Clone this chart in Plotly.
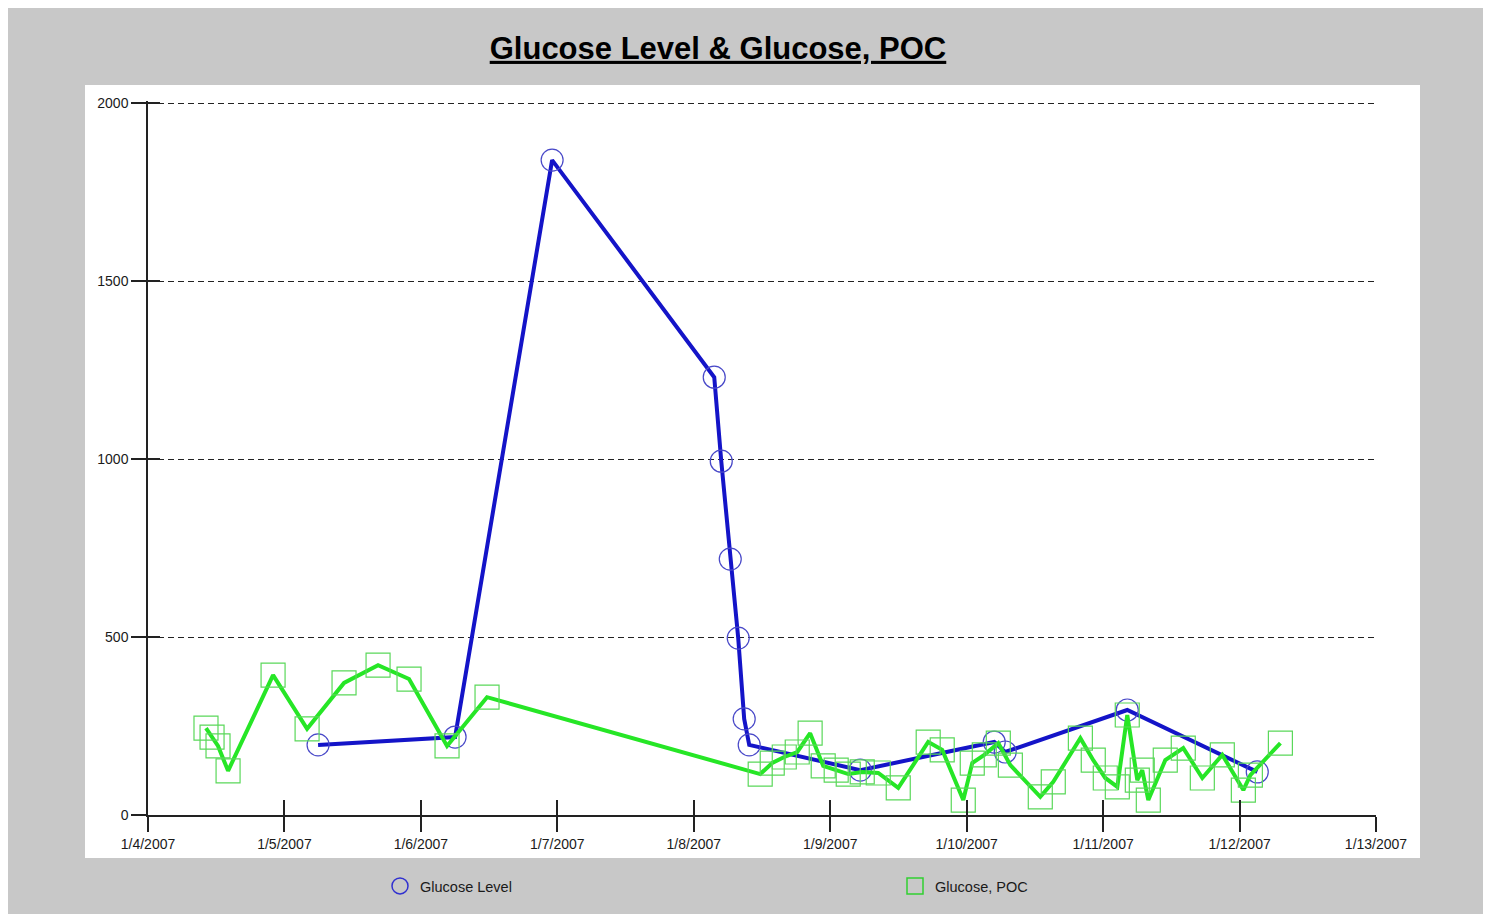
import plotly.graph_objects as go

# ---- Data ----
level_times = [
    "2007-01-05 05:55", "2007-01-06 06:01", "2007-01-06 23:05", "2007-01-08 03:36",
    "2007-01-08 04:50", "2007-01-08 06:25", "2007-01-08 07:49", "2007-01-08 08:52",
    "2007-01-08 09:45", "2007-01-09 05:17", "2007-01-10 04:51", "2007-01-10 06:47",
    "2007-01-11 04:15", "2007-01-12 03:07",
]
level_values = [197, 219, 1840, 1230, 994, 719, 497, 270, 197, 126, 205, 177, 295, 121]

poc_times = [
    "2007-01-04 10:12", "2007-01-04 11:16", "2007-01-04 12:19", "2007-01-04 14:05",
    "2007-01-04 22:00", "2007-01-05 03:59", "2007-01-05 10:29", "2007-01-05 16:28",
    "2007-01-05 21:55", "2007-01-06 04:36", "2007-01-06 11:38", "2007-01-08 11:41",
    "2007-01-08 13:48", "2007-01-08 15:55", "2007-01-08 18:12", "2007-01-08 20:28",
    "2007-01-08 22:46", "2007-01-09 01:03", "2007-01-09 03:10", "2007-01-09 05:38",
    "2007-01-09 08:27", "2007-01-09 11:58", "2007-01-09 17:14", "2007-01-09 19:42",
    "2007-01-09 23:24", "2007-01-10 00:59", "2007-01-10 03:06", "2007-01-10 05:34",
    "2007-01-10 07:41", "2007-01-10 12:57", "2007-01-10 15:14", "2007-01-10 20:00",
    "2007-01-10 22:16", "2007-01-11 00:23", "2007-01-11 02:30", "2007-01-11 04:15",
    "2007-01-11 06:01", "2007-01-11 06:53", "2007-01-11 07:57", "2007-01-11 10:56",
    "2007-01-11 14:06", "2007-01-11 17:27", "2007-01-11 20:58", "2007-01-12 00:40",
    "2007-01-12 01:54", "2007-01-12 07:11",
]
poc_values = [
    244, 219, 194, 124, 393, 242, 371, 421, 382, 194, 331, 115,
    146, 163, 177, 230, 138, 126, 115, 121, 118, 76, 205, 183,
    42, 146, 169, 202, 140, 51, 93, 216, 154, 104, 79, 281,
    98, 126, 42, 154, 188, 104, 169, 70, 112, 202,
]

x_range = ["2007-01-04", "2007-01-13"]
y_range = [0, 2006]
y_ticks = [0, 500, 1000, 1500, 2000]

title_text = "Glucose Level & Glucose, POC"
series_names = ["Glucose Level", "Glucose, POC"]

BLUE_LINE = "#1414c8"
BLUE_MARK = "#4848c8"
GREEN_LINE = "#26e626"
GREEN_MARK = "#5ad85a"
BG = "#c8c8c8"
FONT = "Liberation Sans, Arial, sans-serif"

# page has an 8px body margin: compensate so the plot lands where the reference has it
OFF = 8
W, H = 1491 - 2 * OFF, 922 - 2 * OFF
L, T = 148 - OFF, 101 - OFF
R = W - (1376 - OFF)
B = H - (815 - OFF)
PW, PH = W - L - R, H - T - B

fig = go.Figure()

fig.add_trace(go.Scatter(
    x=level_times, y=level_values, mode="lines+markers",
    line=dict(color=BLUE_LINE, width=4),
    marker=dict(symbol="circle-open", size=22, color=BLUE_MARK, line=dict(width=1.2, color=BLUE_MARK)),
    showlegend=False, name=series_names[0],
))
fig.add_trace(go.Scatter(
    x=poc_times, y=poc_values, mode="lines+markers",
    line=dict(color=GREEN_LINE, width=4),
    marker=dict(symbol="square-open", size=24, color=GREEN_MARK, line=dict(width=1.2, color=GREEN_MARK)),
    showlegend=False, name=series_names[1],
))

# legend-only entries (marker symbol only, as in the reference legend)
fig.add_trace(go.Scatter(
    x=[None], y=[None], mode="markers", name=series_names[0],
    marker=dict(symbol="circle-open", size=22, color="#3030d0", line=dict(width=1.5, color="#3030d0")),
))
fig.add_trace(go.Scatter(
    x=[None], y=[None], mode="markers", name=series_names[1],
    marker=dict(symbol="square-open", size=22, color="#30d030", line=dict(width=1.5, color="#30d030")),
))

# invisible trace on overlay axes so the inner tick halves (and dashed grid) are drawn
fig.add_trace(go.Scatter(
    x=[None], y=[None], xaxis="x2", yaxis="y2", mode="markers",
    showlegend=False, hoverinfo="skip",
))

fig.update_layout(
    width=W, height=H,
    paper_bgcolor=BG, plot_bgcolor="white",
    margin=dict(l=L, r=R, t=T, b=B, pad=0),
    font=dict(family=FONT, color="#1a1a1a", size=12),
    title=dict(
        text="<b><u>" + title_text + "</u></b>",
        font=dict(family=FONT, size=31, color="black"),
        x=(718 - OFF) / W, xref="container", xanchor="center",
        y=1 - (48 - OFF) / H, yref="container", yanchor="middle",
    ),
    xaxis=dict(
        type="date", range=x_range, dtick=86400000, tick0="2007-01-04",
        tickformat="%-m/%-d/%Y", showgrid=False, zeroline=False,
        showline=True, linecolor="#222", linewidth=1.5,
        ticks="outside", ticklen=15, tickwidth=1.5, tickcolor="#222",
        tickfont=dict(family=FONT, size=14, color="#1a1a1a"),
        fixedrange=True,
    ),
    yaxis=dict(
        range=y_range, tickvals=y_ticks, showgrid=False,
        zeroline=False, showline=True, linecolor="#222", linewidth=1.5,
        ticks="outside", ticklen=15, tickwidth=1.5, tickcolor="#222",
        tickfont=dict(family=FONT, size=14, color="#1a1a1a"),
        fixedrange=True,
    ),
    xaxis2=dict(
        type="date", range=x_range, dtick=86400000, tick0="2007-01-04",
        overlaying="x", side="bottom", showgrid=False, zeroline=False,
        showline=False, showticklabels=False,
        ticks="inside", ticklen=15, tickwidth=1.5, tickcolor="#222",
        fixedrange=True,
    ),
    yaxis2=dict(
        range=y_range, tickvals=y_ticks[1:], overlaying="y", side="left",
        showgrid=True, gridcolor="#222", gridwidth=1, griddash="6px,4px",
        zeroline=False, showline=False, showticklabels=False,
        ticks="inside", ticklen=12, tickwidth=1.5, tickcolor="#222",
        fixedrange=True,
    ),
    legend=dict(
        orientation="h", x=(380 - 148) / PW, xanchor="left",
        y=(815 - 886) / PH, yanchor="middle",
        bgcolor="rgba(0,0,0,0)", font=dict(family=FONT, size=14.5, color="#1a1a1a"),
        entrywidth=470, itemwidth=30,
    ),
    shapes=[dict(
        type="rect", xref="paper", yref="paper", layer="below",
        x0=(85 - 148) / PW, x1=(1420 - 148) / PW,
        y0=(815 - 858) / PH, y1=(815 - 85) / PH,
        fillcolor="white", line=dict(width=0),
    )],
    showlegend=True,
)

fig.write_html("out.html")
